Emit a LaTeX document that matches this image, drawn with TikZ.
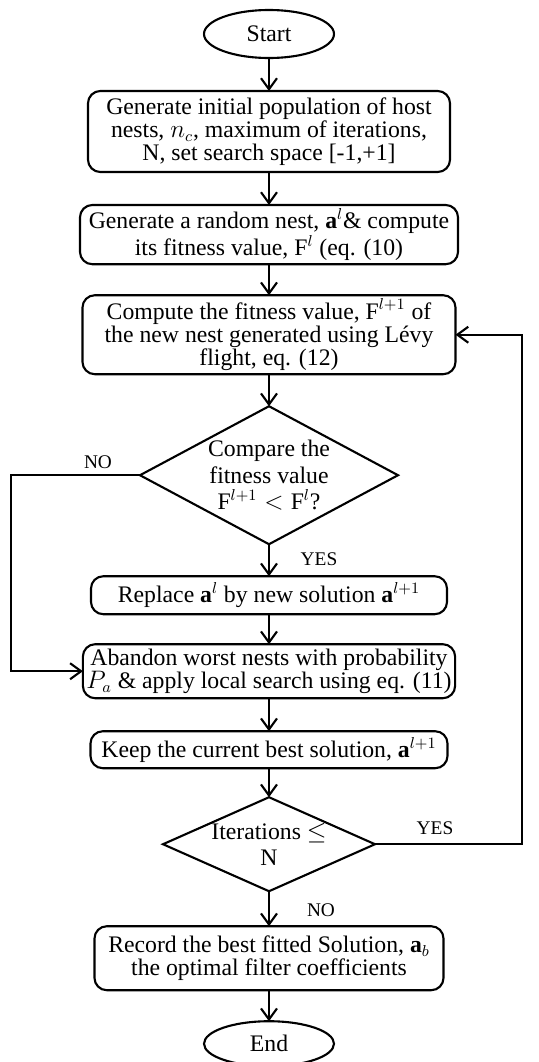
\documentclass[tikz,border=0pt]{standalone}
\usepackage{amsmath}
\usepackage{fontspec}
\setmainfont{Liberation Serif}
\usetikzlibrary{arrows.meta,positioning,shapes.geometric,calc}

\begin{document}
\begin{tikzpicture}[
    node distance=6.4mm,
    box/.style={rectangle, draw=black, line width=1.2pt, rounded corners=7pt, align=center, inner sep=2pt,
        outer sep=0pt, font=\fontsize{13.5}{13.2}\selectfont},
    term/.style={ellipse, draw=black, line width=1.2pt, minimum width=2.6cm, minimum height=0.96cm, inner sep=0pt,
        outer sep=0pt, font=\fontsize{13.5}{13.2}\selectfont},
    cond/.style={diamond, draw=black, line width=1.2pt, align=center, inner sep=-2mm,
        outer sep=0pt, font=\fontsize{13.5}{15}\selectfont},
    lbl/.style={font=\fontsize{11}{11}\selectfont, inner sep=0pt},
    arr/.style={-{Straight Barb[length=2.2mm,width=3.2mm]}, line width=1.2pt}
]
\useasboundingbox (0,0) rectangle (10.76,-21.24);
\node[term] (start) at (5.38,-0.68) {Start};
\node[box, below=6.6mm of start, minimum width=7.24cm, minimum height=1.62cm] (init)
    {Generate initial population of host\\ nests, $n_c$, maximum of iterations,\\ N, set search space [-1,+1]};
\node[box, below=6.6mm of init, minimum width=7.56cm, minimum height=1.16cm] (rand)
    {Generate a random nest, $\mathbf{a}^l$\& compute\\ its fitness value, F$^l$ (eq. (10)};
\node[box, below=6.2mm of rand, minimum width=7.46cm, minimum height=1.58cm] (fit)
    {Compute the fitness value, F$^{l+1}$ of\\ the new nest generated using Lévy\\ flight, eq. (12)};
\node[cond, below=of fit, minimum width=5.16cm, minimum height=2.76cm, aspect=1.87] (cmp)
    {Compare the\\ fitness value\\ $\mathrm{F}^{l+1} < \mathrm{F}^{l}$?};
\node[box, below=of cmp, minimum width=7.12cm, minimum height=0.76cm] (repl)
    {Replace $\mathbf{a}^l$ by new solution $\mathbf{a}^{l+1}$};
\node[box, below=6mm of repl, minimum width=7.26cm, minimum height=1.08cm] (aband)
    {Abandon worst nests with probability\\ $P_a$ \& apply local search using eq. (11)};
\node[box, below=6.6mm of aband, minimum width=7.14cm, minimum height=0.74cm] (keep)
    {Keep the current best solution, $\mathbf{a}^{l+1}$};
\node[cond, below=5.8mm of keep, minimum width=4.24cm, minimum height=1.88cm, aspect=2.26] (iter)
    {Iterations $\leq$\\ N};
\node[box, below=7mm of iter, minimum width=6.98cm, minimum height=1.28cm] (rec)
    {Record the best fitted Solution, $\mathbf{a}_b$\\ the optimal filter coefficients};
\node[term, below=6.2mm of rec, minimum height=0.9cm] (finish) {End};

% loop lines
\coordinate (noline) at (0.22,0);
\coordinate (yesline) at (10.44,0);

\draw[arr] (start) -- (init);
\draw[arr] (init) -- (rand);
\draw[arr] (rand) -- (fit);
\draw[arr] (fit) -- (cmp);
\draw[arr] (cmp) -- (repl);
\draw[arr] (repl) -- (aband);
\draw[arr] (aband) -- (keep);
\draw[arr] (keep) -- (iter);
\draw[arr] (iter) -- (rec);
\draw[arr] (rec) -- (finish);
\draw[arr] (cmp.west) -- (cmp.west -| noline) |- (aband.west);
\draw[arr] (iter.east) -- (iter.east -| yesline) |- (fit.east);

\node[lbl] (no1) at ([xshift=-0.84cm, yshift=0.26cm]cmp.west) {NO};
\node[lbl] (yes1) at ([xshift=1.0cm, yshift=-0.3cm]cmp.south) {YES};
\node[lbl] (yes2) at ([xshift=1.2cm, yshift=0.32cm]iter.east) {YES};
\node[lbl] (no2) at ([xshift=1.04cm, yshift=-0.38cm]iter.south) {NO};
\end{tikzpicture}
\end{document}
